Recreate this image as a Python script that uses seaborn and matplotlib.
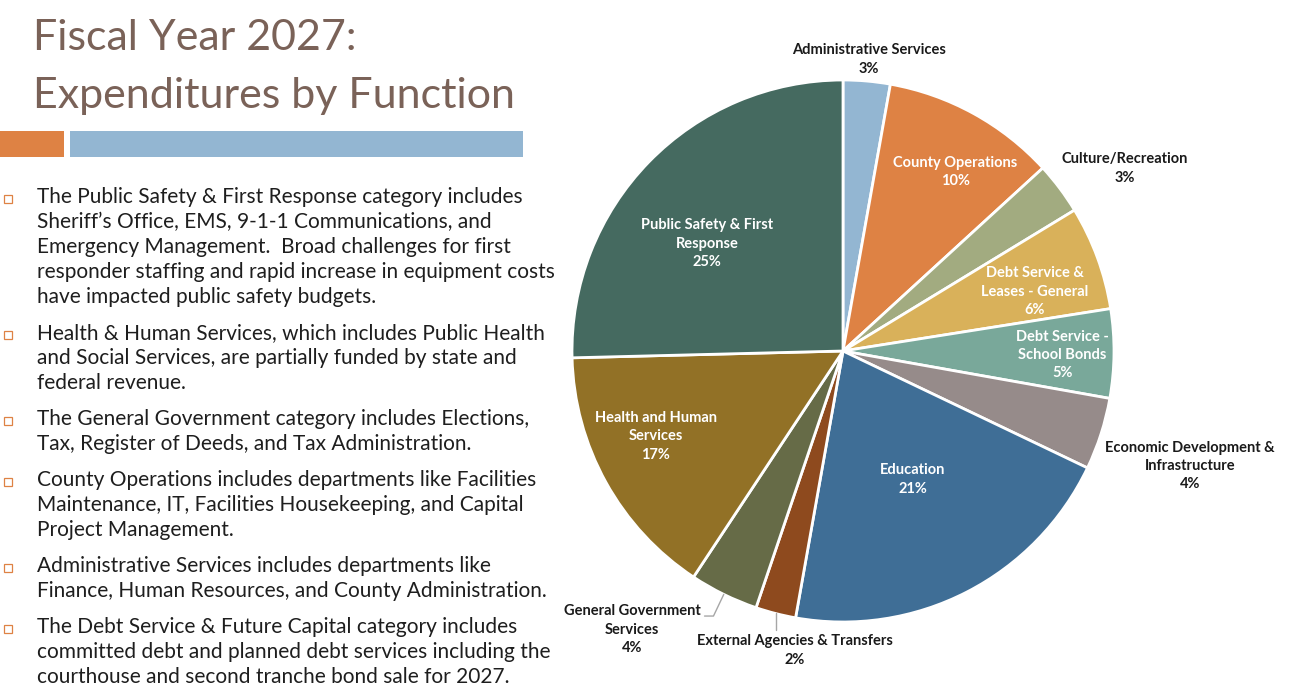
import numpy as np
import seaborn as sns
import matplotlib.pyplot as plt
from matplotlib.patches import Rectangle

sns.set_theme(style='white')
plt.rcParams['font.family'] = ['Lato', 'DejaVu Sans']

# Slices clockwise from 12 o'clock (shares)
categories = ['Administrative Services', 'County Operations', 'Culture/Recreation',
              'Debt Service &\nLeases - General', 'Debt Service -\nSchool Bonds',
              'Economic Development &\nInfrastructure', 'Education',
              'External Agencies & Transfers', 'General Government\nServices',
              'Health and Human\nServices', 'Public Safety & First\nResponse']
shares = [2.8, 10.4, 3.1, 6.2, 5.3, 4.3, 20.7, 2.4, 4.1, 15.3, 25.4]
pct_labels = ['3%', '10%', '3%', '6%', '5%', '4%', '21%', '2%', '4%', '17%', '25%']
colors = ['#93B6D2', '#DE8244', '#A2AB80', '#D9B15A', '#79A89A', '#968B8A',
          '#3F6E96', '#8E4A1E', '#666B47', '#927126', '#456A60']

title_lines = ['Fiscal Year 2027:', 'Expenditures by Function']
bullets = [
    ['The Public Safety & First Response category includes',
     'Sheriff\u2019s Office, EMS, 9-1-1 Communications, and',
     'Emergency Management.  Broad challenges for first',
     'responder staffing and rapid increase in equipment costs',
     'have impacted public safety budgets.'],
    ['Health & Human Services, which includes Public Health',
     'and Social Services, are partially funded by state and',
     'federal revenue.'],
    ['The General Government category includes Elections,',
     'Tax, Register of Deeds, and Tax Administration.'],
    ['County Operations includes departments like Facilities',
     'Maintenance, IT, Facilities Housekeeping, and Capital',
     'Project Management.'],
    ['Administrative Services includes departments like',
     'Finance, Human Resources, and County Administration.'],
    ['The Debt Service & Future Capital category includes',
     'committed debt and planned debt services including the',
     'courthouse and second tranche bond sale for 2027.'],
]

# label placement: radius (pie radius = 1) and clockwise nudge in degrees
label_radius = [1.08, 0.78, 1.24, 0.74, 0.81, 1.35, 0.54, 1.12, 1.29, 0.76, 0.64]
label_nudge = [0, 3.3, 4, 3, 0.5, 0.5, -1.3, -5.3, 11, 4.5, -6]
label_inside = [False, True, False, True, True, False, True, False, False, True, True]

W, H = 1303, 691
CX, CY, R = 843, 351, 271  # pie centre and radius in pixels

fig = plt.figure(figsize=(W / 100, H / 100), dpi=100)
fig.set_facecolor('white')


def fx(x):
    return x / W


def fy(y):
    return 1 - y / H


# title and coloured bars
title_color = '#7A6258'
fig.text(fx(33), fy(50), title_lines[0], fontsize=31, color=title_color, va='baseline')
fig.text(fx(33), fy(108), title_lines[1], fontsize=31, color=title_color, va='baseline')
fig.add_artist(Rectangle((fx(0), fy(157)), fx(64), 26 / H, transform=fig.transFigure,
                         facecolor='#DE8244', edgecolor='none'))
fig.add_artist(Rectangle((fx(70), fy(157)), fx(453), 26 / H, transform=fig.transFigure,
                         facecolor='#93B6D2', edgecolor='none'))

# bullet text
baseline = 203
for para in bullets:
    fig.add_artist(Rectangle((fx(4), fy(baseline)), 8 / W, 8 / H,
                             transform=fig.transFigure, facecolor='none',
                             edgecolor='#DE8244', linewidth=0.9))
    for line in para:
        fig.text(fx(37), fy(baseline), line, fontsize=15, color='#1E1E1E', va='baseline')
        baseline += 25
    baseline += 11

# pie
ax = fig.add_axes([0, 0, 1, 1])
wedges, _ = ax.pie(shares, colors=colors, startangle=90, counterclock=False,
                   wedgeprops=dict(edgecolor='white', linewidth=2))
ax.set_aspect('auto')
ax.set_xlim(-CX / R, (W - CX) / R)
ax.set_ylim((CY - H) / R, CY / R)
ax.axis('off')

for w, name, pct, r, nudge, inside in zip(wedges, categories, pct_labels,
                                          label_radius, label_nudge, label_inside):
    a = np.deg2rad((w.theta1 + w.theta2) / 2 - nudge)
    ax.text(r * np.cos(a), r * np.sin(a), f'{name}\n{pct}', ha='center', va='center',
            fontsize=10.5, fontweight='bold', linespacing=1.4,
            color='white' if inside else '#1A1A1A')

# leader lines for the two small bottom slices
for idx in [7, 8]:
    w = wedges[idx]
    a = np.deg2rad((w.theta1 + w.theta2) / 2)
    x0, y0 = np.cos(a), np.sin(a)
    if idx == 7:
        ax.plot([x0, x0], [y0, y0 - 0.06], color='#A6A6A6', lw=1)
    else:
        ax.plot([x0, x0 - 0.038, x0 - 0.071], [y0, y0 - 0.08, y0 - 0.08],
                color='#A6A6A6', lw=1)

fig.savefig('out.png', dpi=100)
